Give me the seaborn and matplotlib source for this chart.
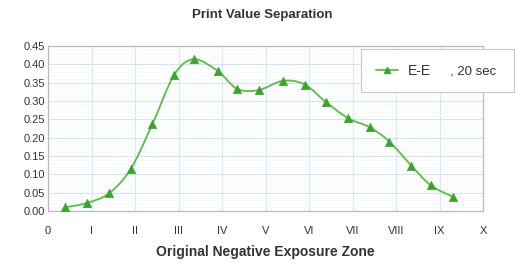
import matplotlib
matplotlib.use("Agg")
import matplotlib.pyplot as plt
from matplotlib.path import Path
from matplotlib.patches import PathPatch
from matplotlib.lines import Line2D
from matplotlib.ticker import MultipleLocator
import seaborn as sns
import pandas as pd

zone = [0.4, 0.9, 1.4, 1.9, 2.4, 2.9, 3.35, 3.9, 4.35, 4.85,
        5.4, 5.9, 6.4, 6.9, 7.4, 7.85, 8.35, 8.8, 9.3]
separation = [0.010, 0.022, 0.048, 0.114, 0.237, 0.371, 0.414, 0.382, 0.333, 0.330,
              0.355, 0.345, 0.296, 0.253, 0.228, 0.189, 0.124, 0.070, 0.039]
zone_labels = ["0", "I", "II", "III", "IV", "V", "VI", "VII", "VIII", "IX", "X"]
series_name = "E-E"
series_note = ", 20 sec"

line_color = "#55c040"
marker_color = "#3aa52a"
text_color = "#333333"
grid_color = "#cfe6f5"

df = pd.DataFrame({"zone": zone, "separation": separation})

sns.set_style("white")
plt.rcParams['font.family'] = ['Liberation Sans', 'DejaVu Sans']

fig = plt.figure(figsize=(5.16, 2.66), dpi=100)
ax = fig.add_axes([48 / 516, 1 - 211 / 266, (483 - 48) / 516, (211 - 46) / 266])


# smooth curve like the spreadsheet's "smoothed line" (bezier through the points)
def smooth_path(xs, ys):
    n = len(xs)
    verts = [(xs[0], ys[0])]
    codes = [Path.MOVETO]
    for i in range(n - 1):
        x0, y0 = xs[max(i - 1, 0)], ys[max(i - 1, 0)]
        x1, y1 = xs[i], ys[i]
        x2, y2 = xs[i + 1], ys[i + 1]
        x3, y3 = xs[min(i + 2, n - 1)], ys[min(i + 2, n - 1)]
        c1 = (x1 + (x2 - x0) / 6, y1 + (y2 - y0) / 6)
        c2 = (x2 - (x3 - x1) / 6, y2 - (y3 - y1) / 6)
        verts += [c1, c2, (x2, y2)]
        codes += [Path.CURVE4] * 3
    return Path(verts, codes)


ax.add_patch(PathPatch(smooth_path(zone, separation), facecolor="none",
                       edgecolor=line_color, lw=1.3, zorder=3))
sns.scatterplot(data=df, x="zone", y="separation", marker="^", s=36,
                color=marker_color, edgecolor=marker_color, linewidth=0.5,
                ax=ax, zorder=4, legend=False)

ax.set_xlim(0, 10)
ax.set_ylim(0, 0.45)
ax.set_xticks(range(11))
ax.set_xticklabels(zone_labels)
ax.xaxis.set_minor_locator(MultipleLocator(0.2))
ax.yaxis.set_major_locator(MultipleLocator(0.05))
ax.yaxis.set_minor_locator(MultipleLocator(0.01))
ax.set_yticklabels([f"{v:.2f}" for v in ax.get_yticks()])

ax.grid(True, which="major", color=grid_color, lw=0.8, zorder=0)
ax.grid(True, which="minor", axis="y", color="#f3f8fc", lw=0.5, zorder=0)
ax.set_axisbelow(True)

for side in ["top", "right", "left", "bottom"]:
    ax.spines[side].set_color("#b8bcc0")
    ax.spines[side].set_linewidth(0.9)

ax.tick_params(axis="both", which="major", labelsize=8, colors="#999999",
               labelcolor=text_color, length=4, direction="in", width=0.8)
ax.tick_params(axis="x", which="major", pad=8, direction="inout", length=5)
ax.tick_params(axis="both", which="minor", length=2, color="#aaaaaa", direction="out")
ax.tick_params(axis="y", which="major", pad=2)

ax.set_xlabel("Original Negative Exposure Zone", fontsize=10, fontweight="bold",
              color=text_color, labelpad=7)
ax.set_ylabel("")
fig.text(0.508, 1 - 15 / 266, "Print Value Separation", ha="center", va="center",
         fontsize=9.5, fontweight="bold", color=text_color)

handle = Line2D([], [], color=line_color, lw=1.3, marker="^", markersize=5,
                markerfacecolor=marker_color, markeredgecolor=marker_color)
leg = ax.legend([handle], [series_name], loc="upper left", mode="expand",
                bbox_to_anchor=(361 / 516, 1 - 94 / 266, 153 / 516, 45 / 266),
                bbox_transform=fig.transFigure,
                prop={"size": 10}, frameon=True, fancybox=False, framealpha=1,
                handlelength=1.6, borderpad=1.05, handletextpad=0.7,
                borderaxespad=0)
leg.get_frame().set_edgecolor("#c8c8c8")
leg.get_frame().set_linewidth(0.8)
for t in leg.get_texts():
    t.set_color(text_color)
fig.text(450 / 516, 1 - 71 / 266, series_note, ha="left", va="center",
         fontsize=9.5, color=text_color, zorder=10)

fig.savefig("out.png", dpi=100, facecolor="white")
